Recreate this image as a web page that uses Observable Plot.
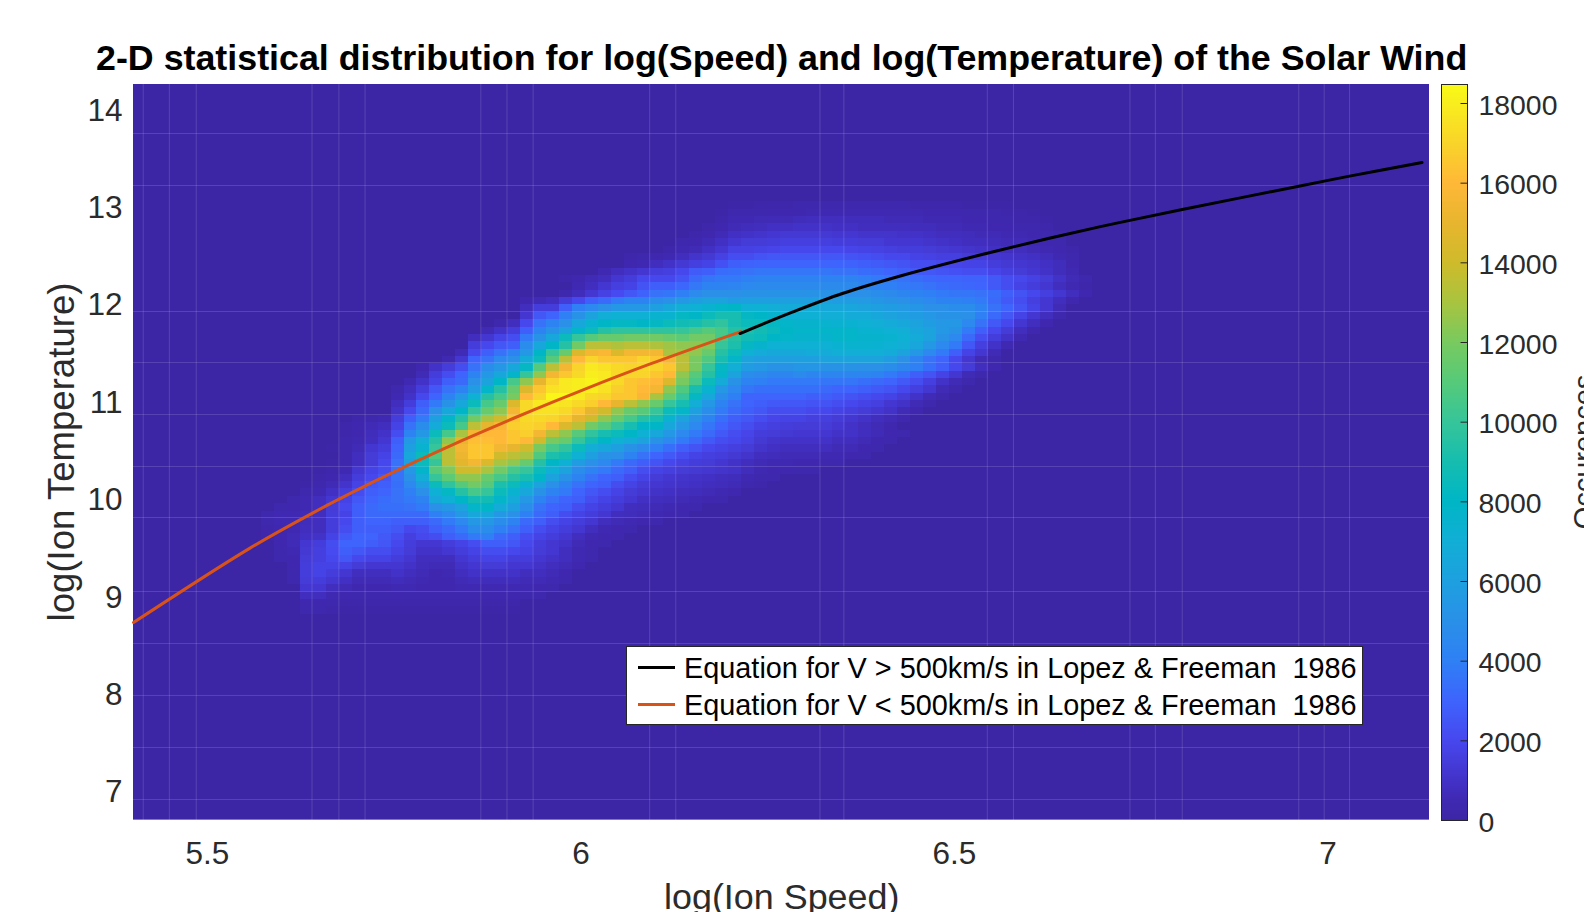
<!DOCTYPE html>
<html><head><meta charset="utf-8">
<script src="https://cdn.jsdelivr.net/npm/d3@7"></script>
<script src="https://cdn.jsdelivr.net/npm/@observablehq/plot@0.6"></script>
<style>
html,body{margin:0;padding:0;background:#fff;width:1584px;height:912px;overflow:hidden;font-family:"Liberation Sans",Arial,sans-serif;}
#wrap{position:relative;width:1584px;height:912px;overflow:hidden;}
#main,#bar{position:absolute;top:0;}
#main{left:0;}#bar{left:1440px;}
.t{position:absolute;white-space:nowrap;color:#2b2b2b;line-height:1;}
#title{left:96px;top:41px;font-size:35.8px;font-weight:bold;color:#000;}
#xlab{left:664px;top:880px;font-size:35.9px;}
#ylab{left:62px;top:452px;font-size:36.6px;transform:translate(-50%,-50%) rotate(-90deg);}
#clab{left:1584px;top:452px;font-size:29px;transform:translate(-50%,-50%) rotate(-90deg);}
#legend{position:absolute;left:626px;top:646px;width:735px;height:77px;background:#fff;border:1px solid #262626;}
#legend .s{position:absolute;left:11px;width:37px;height:2.5px;}
#legend .l{position:absolute;left:57px;font-size:28.85px;color:#000;white-space:pre;line-height:1;}
</style></head><body>
<div id="wrap">
<div id="main"></div><div id="bar"></div>
<div class="t" id="title">2-D statistical distribution for log(Speed) and log(Temperature) of the Solar Wind</div>
<div class="t" id="xlab">log(Ion Speed)</div>
<div class="t" id="ylab">log(Ion Temperature)</div>
<div class="t" id="clab">Occurences</div>
<div id="legend">
<div class="s" style="top:19px;background:#000"></div><div class="l" style="top:7px">Equation for V &gt; 500km/s in Lopez &amp; Freeman  1986</div>
<div class="s" style="top:56px;background:#D95319"></div><div class="l" style="top:44px">Equation for V &lt; 500km/s in Lopez &amp; Freeman  1986</div>
</div>
</div>
<script>
// 100 x 100 histogram, counts in hundreds, rows listed from the top
const firstRow = 16;
const rowStarts = [46,45,45,44,43,42,41,38,38,36,33,34,33,30,30,30,28,27,26,26,25,24,22,22,21,20,20,20,20,17,16,16,16,15,16,15,14,14,13,13,12,11,10,10,10,10,11,11,11,12,12,12,13,13,13,13];
const rowHundreds = [
[1,1,2,2,2,3,3,3,3,3,3,3,3,3,2,2,2,2,1,1,1,1],
[1,3,3,3,4,4,4,5,5,5,5,5,5,5,5,5,4,4,4,3,3,3,2,2,1],
[2,5,5,6,6,6,7,8,8,8,7,7,7,6,6,6,5,5,5,4,4,3,3,2,2,1],
[2,4,6,7,8,9,9,10,10,10,9,9,8,8,8,8,7,7,6,6,5,5,4,4,3,3,2],
[2,4,6,9,10,11,12,13,13,13,13,12,12,11,11,11,10,10,9,8,8,7,6,6,5,5,4,3,2],
[3,4,6,9,12,14,14,15,16,16,16,16,15,15,14,14,12,12,12,11,10,9,8,8,7,6,6,5,4,3],
[2,5,6,9,12,17,17,18,19,20,20,20,20,20,19,18,17,16,15,15,14,13,12,11,10,9,8,8,6,5,4,2],
[2,3,4,5,8,11,13,17,22,22,24,25,25,25,25,25,25,24,23,22,20,20,18,17,16,16,14,14,12,11,10,9,7,5,3],
[4,5,8,10,13,16,18,23,28,29,30,30,30,30,30,30,30,29,28,27,25,24,22,22,20,19,18,18,15,13,12,11,9,7,4],
[5,8,10,12,15,16,20,27,28,33,34,35,36,36,36,36,36,36,35,35,33,32,30,28,26,25,24,23,22,22,19,16,14,12,10,7,5],
[2,4,6,8,12,15,20,20,20,24,32,36,38,38,40,42,42,42,42,42,42,42,42,40,38,36,35,33,31,30,30,29,29,26,22,20,17,14,10,6,3],
[5,8,12,16,18,24,28,28,31,37,42,42,43,45,46,46,46,46,46,46,46,46,44,42,40,38,37,35,33,32,31,30,26,22,18,15,12,8,5,2],
[3,7,12,17,21,25,29,35,36,40,47,50,50,50,52,52,52,52,52,52,52,52,50,50,48,46,44,42,40,38,36,36,35,33,28,24,20,16,12,8,4],
[4,6,8,14,20,28,32,38,42,42,48,50,55,60,62,62,58,60,60,60,60,60,60,60,58,58,56,54,52,50,48,45,42,42,40,38,32,26,22,16,12,8,4],
[8,15,15,28,40,45,50,55,55,55,60,65,70,72,75,78,80,72,72,70,68,68,68,66,65,64,62,60,58,56,54,50,50,48,48,42,35,30,24,18,12,6],
[12,25,30,40,52,62,70,72,72,72,75,75,82,80,85,90,90,82,80,76,72,72,72,70,70,68,68,65,62,60,58,55,52,52,50,40,32,25,18,12,8,3],
[3,8,20,35,42,50,65,75,80,82,82,80,82,85,88,90,95,98,90,85,85,82,78,76,76,75,74,74,72,70,68,65,62,58,55,55,45,35,26,20,12,8,4],
[6,10,15,28,42,52,62,78,85,95,98,98,98,98,98,100,105,110,105,95,92,88,84,80,78,78,78,78,78,75,74,72,70,65,62,55,52,38,28,20,14,8,4],
[8,12,18,22,38,52,65,85,100,110,115,115,118,118,118,115,112,118,118,105,95,88,85,80,78,76,76,76,78,78,76,76,75,72,68,62,52,45,32,22,15,10,5],
[15,20,25,28,48,65,80,95,118,135,135,132,135,135,132,128,125,125,122,100,92,82,76,72,72,72,72,72,74,75,75,74,72,70,64,55,45,38,25,16,10,5],
[6,20,28,35,42,55,80,100,115,145,155,158,145,155,155,155,130,130,125,115,95,85,72,68,66,66,66,68,68,70,70,70,70,68,62,55,45,38,28,18,12,6],
[5,12,30,35,45,50,68,85,110,135,160,170,165,165,165,170,165,155,135,120,108,90,78,62,60,60,60,60,60,62,62,62,62,62,58,50,42,35,30,20,12,6,3],
[4,10,15,22,35,48,55,65,82,110,135,155,170,178,175,172,170,172,170,165,135,120,100,82,70,58,55,52,52,54,54,52,52,52,50,50,48,44,40,34,28,20,14,8,4],
[6,15,22,30,42,55,65,78,100,125,155,165,172,180,178,172,170,170,165,160,125,110,95,78,62,48,46,44,44,46,44,44,44,44,44,42,38,34,28,24,18,12,6,3],
[5,10,18,28,32,50,62,80,105,125,150,170,178,180,182,178,172,165,162,160,145,120,105,85,68,52,42,40,38,38,38,38,36,36,36,34,32,30,26,22,16,10,6,3],
[3,8,15,25,35,42,58,78,95,115,145,165,175,178,180,180,175,168,165,160,155,125,108,90,75,55,45,36,34,34,34,34,34,32,30,30,28,26,24,20,16,12,6,3],
[5,10,20,30,42,55,72,95,105,120,160,170,183,184,178,172,170,165,165,158,130,115,100,82,65,48,40,30,30,30,30,30,28,28,26,24,22,20,18,14,10,6,3],
[8,15,28,38,52,65,85,105,115,145,172,178,178,176,172,168,160,150,135,125,115,100,90,70,55,42,35,30,28,26,25,25,24,24,22,20,18,16,12,10,6,3],
[10,20,32,50,65,80,100,115,125,155,172,175,175,172,165,150,140,125,115,110,100,85,78,60,48,38,32,28,25,22,22,22,20,20,18,16,14,12,10,6,4],
[2,3,5,15,28,38,60,78,95,118,130,140,165,172,172,170,165,150,140,125,115,105,95,90,75,62,52,42,34,28,25,22,19,18,18,16,16,14,12,10,8,6,4],
[2,4,6,8,18,35,48,68,85,105,135,150,158,168,170,168,160,145,135,118,110,100,90,80,80,65,55,45,36,30,25,22,18,16,15,14,14,14,12,10,8,6,4],
[2,4,7,10,22,42,55,85,105,130,155,160,160,165,168,155,135,125,110,98,90,85,80,72,65,55,45,38,32,26,22,19,15,14,13,12,12,12,10,10,8,6,4,3],
[3,5,8,12,28,55,70,95,125,150,162,162,160,165,160,140,120,115,100,88,80,72,68,62,52,45,38,32,26,22,20,17,13,11,10,10,10,10,8,8,6,4,3],
[1,3,6,12,15,30,60,75,100,135,155,165,165,155,150,140,120,105,98,85,70,65,60,52,46,40,34,28,24,20,18,16,14,11,9,8,8,8,8,6,6,4,3],
[3,8,14,18,32,65,85,108,135,152,165,165,140,135,130,108,92,88,72,60,52,50,42,35,30,26,22,18,16,15,13,11,8,7,6,6,6,5,5,4,3],
[1,3,8,14,20,35,60,85,100,135,148,155,145,130,125,115,95,80,72,58,50,45,38,32,28,24,20,17,15,14,12,10,8,6,5,5,4,4,3,3],
[1,2,5,12,18,22,35,55,78,110,122,140,140,130,118,105,100,85,72,62,48,42,38,32,28,22,18,16,14,13,12,11,10,7,5,4,4,3,3],
[2,4,8,15,20,25,35,50,70,100,112,125,125,115,105,95,90,80,62,52,42,35,30,28,22,18,14,12,11,10,9,8,7,5,3,3],
[1,3,6,11,18,25,28,34,45,60,85,98,110,118,110,92,85,75,62,50,42,35,30,28,22,18,14,12,11,10,9,8,7,6,3,2],
[3,5,9,15,22,28,30,35,40,50,72,82,95,105,100,85,75,65,52,42,38,30,25,22,18,14,12,10,9,8,7,6,5,4],
[3,5,8,12,18,25,30,33,35,38,42,65,72,80,88,88,78,68,55,42,35,30,28,22,18,15,12,9,8,7,6,5,4,3],
[3,4,5,8,14,20,28,32,34,34,35,38,50,55,62,78,80,68,60,48,35,30,28,22,18,15,12,8,7,6,5,4,3],
[3,5,5,6,8,15,18,28,32,32,32,32,32,40,45,55,65,65,55,50,40,32,28,22,18,15,12,8,7,6,5,4,3],
[3,5,5,7,8,15,20,28,30,30,28,28,28,32,38,45,55,55,48,42,32,28,22,18,15,12,8,6,5,4,3],
[2,4,5,8,8,15,22,28,28,28,25,20,22,28,32,38,48,48,40,35,28,22,18,15,12,8,5,4,3],
[2,4,6,9,10,18,26,30,30,26,22,16,20,22,28,32,38,40,32,28,22,18,15,12,8,5,4,3],
[4,6,12,15,22,30,30,28,25,20,15,12,12,15,18,22,28,28,25,20,15,12,10,6,4,3],
[3,5,13,16,21,28,25,22,22,18,14,10,10,12,15,18,22,22,20,18,14,12,8,5,3],
[3,4,14,16,20,25,20,18,18,15,12,8,8,8,12,15,18,18,15,15,12,10,8,5,3],
[4,15,18,18,18,14,12,12,12,10,7,6,6,10,12,14,14,12,12,10,8,6,4],
[3,15,18,15,12,8,8,8,10,8,6,4,5,8,10,10,10,10,8,8,6,4],
[3,14,15,12,9,6,6,6,7,6,5,4,4,6,7,7,7,7,6,6,5,3],
[12,12,8,6,4,4,4,5,5,4,4,4,5,5,5,5,5,5,4,3],
[8,8,5,4,3,3,3,4,3,3,3,3,3,3,4,4,4,3,3],
[4,4,3,2,2,2,2,2,2,2,2,2,2,2,2,2,2],
[3,3,2,1,1,1,1,1,1,1,1,1,1,1,1,1,1]
];
const gridCols = 100, gridRows = 100;
const gridLeft = 5.3975, gridRight = 7.1354, gridTop = 14.266, gridBottom = 6.709;

const lowSpeed = [5.401,5.557,5.640,5.710,5.780,5.825,5.866,5.936,6.003,6.092,6.214];
const lowTemp  = [8.733,9.497,9.854,10.13,10.389,10.547,10.686,10.914,11.122,11.385,11.72];
const highSpeed = [6.213,6.283,6.350,6.430,6.537,6.627,6.694,6.735,6.805,6.961,7.029,7.126];
const highTemp  = [11.70,11.919,12.111,12.296,12.511,12.679,12.795,12.862,12.973,13.213,13.316,13.456];

const seamX = [5.414,5.449,5.485,5.640,5.676,5.711,5.866,5.901,5.936,6.092,6.127,6.320,6.352,6.544,6.579,6.735,6.769,6.805,6.961,6.995,7.029];
const seamY = [13.754,13.220,11.926,11.402,10.869,10.335,9.811,9.051,8.517,7.984,7.450,6.916];

const xTicks = [5.5,6,6.5,7];
const yTicks = [7,8,9,10,11,12,13,14];
const barTicks = [0,2000,4000,6000,8000,10000,12000,14000,16000,18000];
const barMax = 18477;

const colorStops  = [0,500,1000,1500,2000,3000,4000,5000,6000,7000,8000,9000,10000,11000,12000,13000,14000,15000,16000,17000,18000,18477];
const colorValues = ["#3d26a5","#3f29b2","#4332c8","#453ddb","#4747ee","#3e64fd","#2f80f5","#2a90e8","#1ea0e0","#12aed6","#00b6c6","#16bdb0","#36c59a","#56ca7a","#78ca60","#a8c440","#cfbb2b","#e8b52f","#ffb838","#f9d42a","#f8ee1e","#f9fb15"];
const colorScale = {type:"linear", domain:colorStops, range:colorValues, clamp:true};

const grid = new Float64Array(gridCols*gridRows);
rowHundreds.forEach((vals,i)=>vals.forEach((v,k)=>{grid[(firstRow+i)*gridCols+rowStarts[i]+k]=v*100;}));

const lowData = lowSpeed.map((x,i)=>({x,y:lowTemp[i]}));
const highData = highSpeed.map((x,i)=>({x,y:highTemp[i]}));

const main = Plot.plot({
  width:1584,height:912,marginLeft:133,marginRight:155,marginTop:84,marginBottom:92,
  style:{background:"transparent",fontFamily:"'Liberation Sans',Arial,sans-serif",color:"#2b2b2b"},
  x:{domain:[5.401,7.136]},
  y:{domain:[6.70,14.257]},
  color:colorScale,
  marks:[
    Plot.raster(Array.from(grid),{width:gridCols,height:gridRows,x1:gridLeft,x2:gridRight,y1:gridTop,y2:gridBottom,fill:d=>d,imageRendering:"pixelated",clip:true}),
    Plot.ruleX(seamX,{stroke:"#fff",strokeOpacity:0.14}),
    Plot.ruleY(seamY,{stroke:"#fff",strokeOpacity:0.14}),
    Plot.line(lowData,{x:"x",y:"y",stroke:"#D95319",strokeWidth:3,curve:"catmull-rom"}),
    Plot.line(highData,{x:"x",y:"y",stroke:"#000",strokeWidth:3,curve:"catmull-rom"}),
    Plot.axisX({ticks:xTicks,tickSize:0,tickPadding:21,fontSize:31.5,label:null,tickFormat:d=>String(d),anchor:"bottom"}),
    Plot.axisY({ticks:yTicks,tickSize:0,tickPadding:11,fontSize:31.5,label:null,tickFormat:d=>String(d),anchor:"left",dy:1})
  ]
});
document.getElementById("main").append(main);

const barN = 400;
const barValues = d3.range(barN).map(i=>barMax*(1-(i+0.5)/barN));
const bar = Plot.plot({
  width:144,height:912,marginLeft:1,marginRight:117,marginTop:84,marginBottom:92,
  style:{background:"transparent",fontFamily:"'Liberation Sans',Arial,sans-serif",color:"#2b2b2b"},
  x:{domain:[0,1],axis:null},
  y:{domain:[0,barMax]},
  color:colorScale,
  marks:[
    Plot.raster(barValues,{width:1,height:barN,x1:0,x2:1,y1:barMax,y2:0,fill:d=>d}),
    Plot.ruleY(barTicks,{x1:0.75,x2:1,stroke:"#262626"}),
    Plot.frame({stroke:"#262626"}),
    Plot.axisY({ticks:barTicks,anchor:"right",tickSize:0,tickPadding:11,fontSize:28.4,label:null,tickFormat:d=>String(d),dy:2})
  ]
});
document.getElementById("bar").append(bar);
</script>
</body></html>
